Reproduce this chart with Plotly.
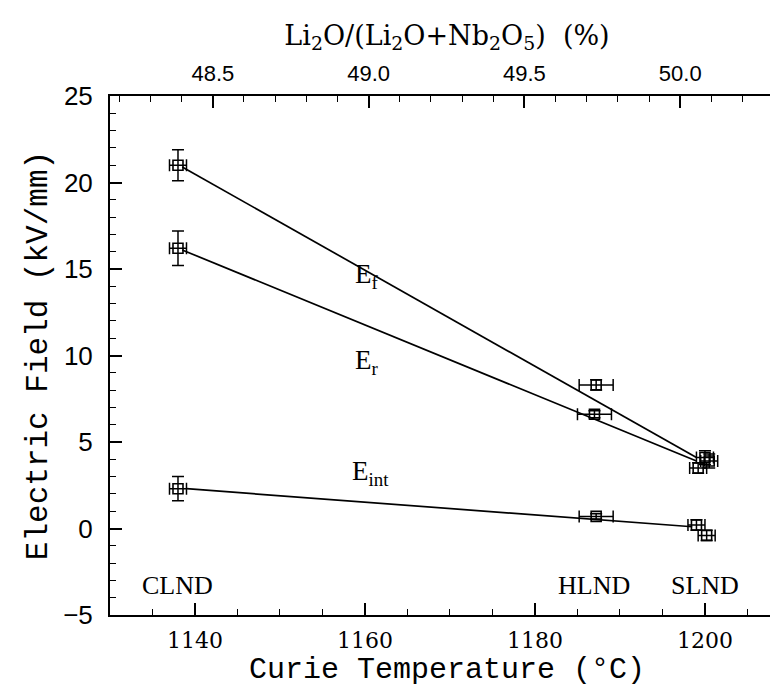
import plotly.graph_objects as go

# Curie temperature (deg C), field values (kV/mm) and error bars
ef_temp = [1138.0, 1187.2, 1200.0]
ef_val = [21.0, 8.3, 4.1]
ef_dy = [0.9, 0.3, 0.4]
ef_dx = [1.0, 2.0, 1.0]

er_temp = [1138.0, 1187.0, 1199.2, 1200.5]
er_val = [16.2, 6.6, 3.5, 3.9]
er_dy = [1.0, 0.2, 0.3, 0.4]
er_dx = [1.0, 2.0, 1.0, 1.0]

ei_temp = [1138.0, 1187.2, 1199.0, 1200.2]
ei_val = [2.3, 0.7, 0.2, -0.4]
ei_dy = [0.7, 0.15, 0.3, 0.3]
ei_dx = [1.0, 2.0, 1.0, 1.0]

# straight fit lines drawn through each series
fit_temp = [1138.5, 1199.0]
fit_f = [20.9, 4.1]
fit_r = [16.1, 3.9]
fit_int_temp = [1139.0, 1198.5]
fit_int = [2.3, 0.1]

samples = ["CLND", "HLND", "SLND"]
sample_temp = [1138.0, 1187.0, 1200.0]

# Li2O/(Li2O+Nb2O5) scale on the top axis
comp_range = [48.17, 50.333]

serif = "Liberation Serif"
mono = "Liberation Mono"
sans = "Liberation Sans"

fig = go.Figure()

for t, v in [(fit_temp, fit_f), (fit_temp, fit_r), (fit_int_temp, fit_int)]:
    fig.add_trace(go.Scatter(x=t, y=v, mode="lines",
                             line=dict(color="black", width=1.7),
                             hoverinfo="skip", showlegend=False))

for t, v, dx, dy in [(ef_temp, ef_val, ef_dx, ef_dy),
                     (er_temp, er_val, er_dx, er_dy),
                     (ei_temp, ei_val, ei_dx, ei_dy)]:
    fig.add_trace(go.Scatter(
        x=t, y=v, mode="markers",
        marker=dict(symbol="square-open", size=10, color="black",
                    line=dict(width=1.6, color="black")),
        error_x=dict(type="data", array=dx, color="black", thickness=1.5, width=6),
        error_y=dict(type="data", array=dy, color="black", thickness=1.5, width=6),
        showlegend=False))

# invisible helper so the composition axis is drawn on top
fig.add_trace(go.Scatter(x=comp_range, y=[None, None], xaxis="x2",
                         mode="markers", hoverinfo="skip", showlegend=False))

# labels for the three curves
for txt, x, y in [("E<sub>f</sub>", 1160.2, 14.6),
                  ("E<sub>r</sub>", 1160.2, 9.6),
                  ("E<sub>int</sub>", 1160.6, 3.2)]:
    fig.add_annotation(x=x, y=y, text=txt, showarrow=False,
                       font=dict(family=serif, size=27, color="black"))

for name, t in zip(samples, sample_temp):
    fig.add_annotation(x=t, y=-3.3, text=name, showarrow=False,
                       font=dict(family=serif, size=26, color="black"))

axis_common = dict(showline=True, linecolor="black", linewidth=2,
                   ticks="inside", tickcolor="black", tickwidth=1.5,
                   ticklen=12, showgrid=False, zeroline=False,
                   automargin=False)

fig.update_layout(
    width=778, height=686,
    margin=dict(l=102, r=2, t=88, b=79),
    plot_bgcolor="white", paper_bgcolor="white",
    xaxis=dict(range=[1130, 1209.3], dtick=20, tick0=1140, mirror=True,
               minor=dict(dtick=5, ticks="inside", ticklen=6,
                          tickcolor="black", tickwidth=1.2),
               tickfont=dict(family="DejaVu Serif", size=22, color="black"),
               ticklabelstandoff=5,
               title=dict(text="Curie Temperature (°C)", standoff=4,
                          font=dict(family=mono, size=30, color="black")),
               **axis_common),
    xaxis2=dict(range=comp_range, overlaying="x", side="top",
                dtick=0.5, tick0=48.5, tickformat=".1f",
                minor=dict(dtick=0.1, ticks="inside", ticklen=6,
                           tickcolor="black", tickwidth=1.2),
                tickfont=dict(family=sans, size=22, color="black"),
                ticklabelstandoff=4,
                title=dict(text="Li<sub>2</sub>O/(Li<sub>2</sub>O+Nb<sub>2</sub>O<sub>5</sub>)  (%)",
                           standoff=8,
                           font=dict(family="DejaVu Serif", size=27, color="black")),
                **axis_common),
    yaxis=dict(range=[-5, 25], dtick=5, mirror="ticks",
               minor=dict(dtick=1, ticks="inside", ticklen=6,
                          tickcolor="black", tickwidth=1.2),
               tickfont=dict(family=sans, size=26, color="black"),
               ticklabelstandoff=10,
               title=dict(text="Electric Field (kV/mm)", standoff=6,
                          font=dict(family=mono, size=31, color="black")),
               **axis_common),
)

fig.write_html("out.html")
